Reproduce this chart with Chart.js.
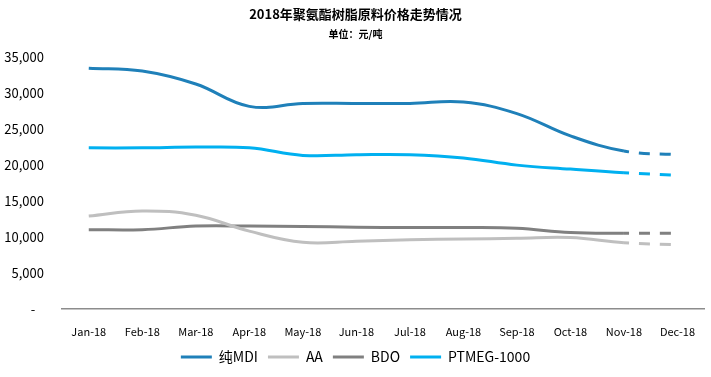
<!DOCTYPE html>
<html><head><meta charset="utf-8">
<script src="https://cdn.jsdelivr.net/npm/chart.js@4/dist/chart.umd.min.js"></script>
<style>html,body{margin:0;padding:0;background:#fff;}#wrap{width:711px;height:377px;}</style>
</head><body><div id="wrap"><canvas id="c"></canvas></div>
<script>
const categories = ["Jan-18","Feb-18","Mar-18","Apr-18","May-18","Jun-18","Jul-18","Aug-18","Sep-18","Oct-18","Nov-18","Dec-18"];
const mdi   = [33400, 33000, 31200, 28100, 28500, 28500, 28500, 28700, 27100, 24000, 21900, 21400];
const aa    = [12900, 13600, 13000, 10800, 9250, 9400, 9600, 9700, 9800, 9900, 9200, 8900];
const bdo   = [11000, 11000, 11500, 11500, 11450, 11350, 11300, 11300, 11200, 10600, 10500, 10500];
const ptmeg = [22350, 22350, 22450, 22350, 21300, 21400, 21400, 20950, 19950, 19400, 18900, 18550];
const seriesNames = ["纯MDI","AA","BDO","PTMEG-1000"];
const yTicks = [0,5000,10000,15000,20000,25000,30000,35000];

const FONT = "'Microsoft YaHei','Noto Sans CJK SC','Noto Sans',sans-serif";
const lastDash = (ctx) => ctx.p0DataIndex === 10 ? [11,10] : undefined;
function ds(label, data, color){
  return {label, data, borderColor: color, backgroundColor: color, borderWidth: 3,
    pointRadius: 0, tension: 0.4, fill: false,
    segment: {borderDash: lastDash, borderDashOffset: ctx => ctx.p0DataIndex === 10 ? 6 : 0}};
}
new Chart(document.getElementById('c'), {
  type: 'line',
  data: {labels: categories, datasets: [
    ds(seriesNames[0], mdi, '#1f80b9'),
    ds(seriesNames[1], aa, '#bfbfbf'),
    ds(seriesNames[2], bdo, '#808080'),
    ds(seriesNames[3], ptmeg, '#00b0f0')
  ]},
  options: {
    responsive: true, maintainAspectRatio: false, animation: false,
    layout: {padding: {left: 0, right: 0, top: 0, bottom: 3}},
    plugins: {
      title: {display: true, text: '2018年聚氨酯树脂原料价格走势情况', color: '#000',
        font: {family: FONT, size: 13, weight: 'bold'}, padding: {top: 6, bottom: 4}},
      subtitle: {display: true, text: '单位：元/吨', color: '#000',
        font: {family: FONT, size: 10, weight: 'bold'}, padding: {top: 3, bottom: 16}},
      legend: {position: 'bottom',
        labels: {usePointStyle: true, pointStyle: 'line', pointStyleWidth: 31, color: '#000',
          font: {family: FONT, size: 14}, padding: 10, boxHeight: 3}},
      tooltip: {enabled: false}
    },
    scales: {
      x: {offset: true, grid: {display: false, drawTicks: false, offset: true}, border: {display: true, color: '#8c8c8c', width: 1.5},
        afterFit: (s) => { s.height = 31; },
        ticks: {color: '#000', font: {family: FONT, size: 11}, padding: 16, maxRotation: 0, autoSkip: false}},
      y: {min: 0, max: 35000, grid: {display: false, drawTicks: false}, border: {display: false},
        afterBuildTicks: (s) => { s.ticks = yTicks.map(v => ({value: v})); },
        afterFit: (s) => { s.width = 62; },
        ticks: {color: '#000', font: {family: FONT, size: 13}, padding: 18,
          callback: (v) => v === 0 ? '-   ' : v.toLocaleString('en-US')}}
    }
  }
});
</script></body></html>
